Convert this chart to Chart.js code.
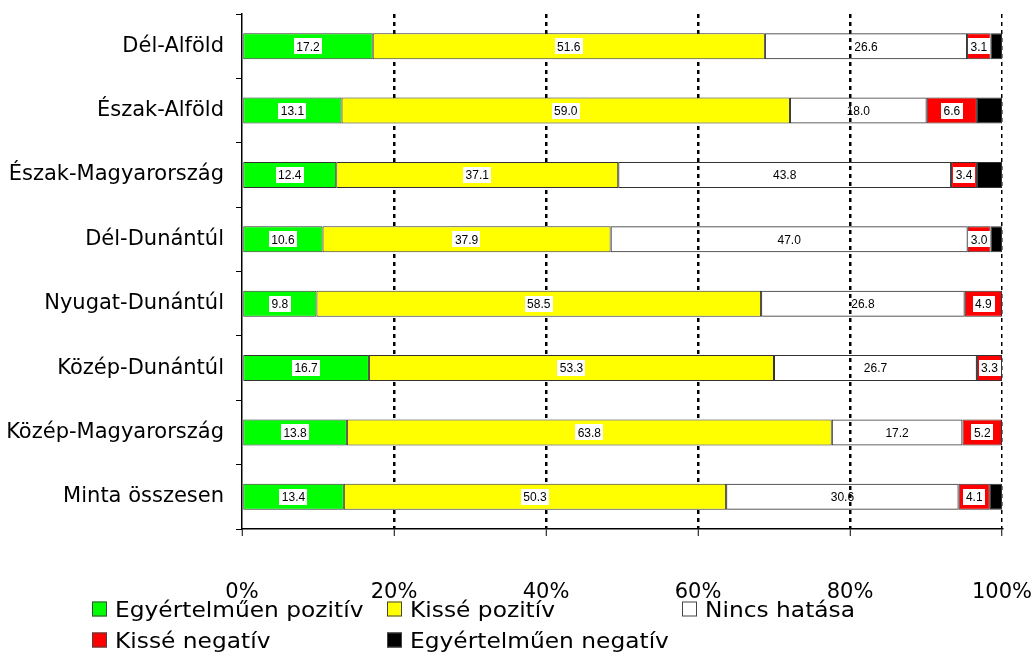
<!DOCTYPE html>
<html><head><meta charset="utf-8">
<script src="https://cdn.jsdelivr.net/npm/chart.js@4.4.1/dist/chart.umd.min.js"></script>
<style>html,body{margin:0;padding:0;background:#fff}#wrap{width:1033px;height:654px;position:relative}</style>
</head><body><div id="wrap"><canvas id="c" width="1033" height="654"></canvas></div>
<script>
const categories = ['Dél-Alföld','Észak-Alföld','Észak-Magyarország','Dél-Dunántúl','Nyugat-Dunántúl','Közép-Dunántúl','Közép-Magyarország','Minta összesen'];
const seriesNames = ['Egyértelműen pozitív','Kissé pozitív','Nincs hatása','Kissé negatív','Egyértelműen negatív'];
const egyertelmuenPozitiv = [17.2, 13.1, 12.4, 10.6, 9.8, 16.7, 13.8, 13.4];
const kisssePozitiv       = [51.6, 59.0, 37.1, 37.9, 58.5, 53.3, 63.8, 50.3];
const nincsHatasa         = [26.6, 18.0, 43.8, 47.0, 26.8, 26.7, 17.2, 30.6];
const kisseNegativ        = [3.1, 6.6, 3.4, 3.0, 4.9, 3.3, 5.2, 4.1];
const egyertelmuenNegativ = [1.5, 3.3, 3.3, 1.5, 0.0, 0.0, 0.0, 1.6];
const tickLabels = ['0%','20%','40%','60%','80%','100%'];

const seriesValues = [egyertelmuenPozitiv, kisssePozitiv, nincsHatasa, kisseNegativ, egyertelmuenNegativ];
const fills = ['#00ff00','#ffff00','rgba(255,255,255,0)','#ff0000','#000000'];
const legendFills = ['#00ff00','#ffff00','#ffffff','#ff0000','#000000'];
const showLabel = [true,true,true,true,false];
const labelBg = [true,true,false,true,false];

const FONT = '"DejaVu Sans", Verdana, sans-serif';
Chart.defaults.font.family = FONT;
Chart.defaults.color = '#000';

const labelPlugin = {
  id: 'segLabels',
  afterDatasetsDraw(chart) {
    const ctx = chart.ctx;
    ctx.save();
    ctx.font = '12px "Liberation Sans", Arial, sans-serif';
    ctx.textAlign = 'center';
    ctx.textBaseline = 'middle';
    chart.data.datasets.forEach((ds, di) => {
      if (!showLabel[di]) return;
      const meta = chart.getDatasetMeta(di);
      meta.data.forEach((el, i) => {
        const v = ds.data[i];
        if (!v) return;
        const p = el.getProps(['x','y','base'], true);
        const cx = (p.x + p.base) / 2;
        const txt = v.toFixed(1);
        const w = ctx.measureText(txt).width;
        if (labelBg[di]) {
          ctx.fillStyle = '#fff';
          ctx.fillRect(Math.round(cx - w/2 - 2.5), Math.round(p.y - 8), Math.round(w + 5), 16);
        }
        ctx.fillStyle = '#000';
        ctx.fillText(txt, cx, p.y + 1);
      });
    });
    ctx.restore();
  }
};

const legendItems = [
  {x: 92, y: 609}, {x: 387, y: 609}, {x: 682, y: 609},
  {x: 92, y: 640}, {x: 387, y: 640}
];
const legendPlugin = {
  id: 'customLegend',
  afterDraw(chart) {
    const ctx = chart.ctx;
    ctx.save();
    ctx.font = '22px ' + FONT;
    ctx.textBaseline = 'alphabetic';
    ctx.textAlign = 'left';
    chart.data.datasets.forEach((ds, di) => {
      const it = legendItems[di];
      ctx.fillStyle = legendFills[di];
      ctx.fillRect(it.x, it.y - 7.5, 15, 15);
      ctx.strokeStyle = '#444';
      ctx.lineWidth = 1;
      ctx.strokeRect(it.x + 0.5, it.y - 7, 14, 14);
      ctx.fillStyle = '#000';
      ctx.save();
      ctx.translate(it.x + 23, it.y + 8);
      ctx.scale(1.06, 1);
      ctx.fillText(ds.label, 0, 0);
      ctx.restore();
    });
    ctx.restore();
  }
};

new Chart(document.getElementById('c'), {
  type: 'bar',
  data: {
    labels: categories,
    datasets: seriesNames.map((n, i) => ({
      label: n,
      data: seriesValues[i],
      backgroundColor: fills[i],
      borderColor: '#333',
      borderWidth: 1,
      borderSkipped: false,
      barPercentage: 0.405,
      categoryPercentage: 1.0
    }))
  },
  options: {
    indexAxis: 'y',
    responsive: false,
    animation: false,
    devicePixelRatio: 1,
    layout: { padding: { top: 14, right: 31, left: 0, bottom: 0 } },
    plugins: { legend: { display: false }, tooltip: { enabled: false } },
    scales: {
      x: {
        stacked: true, min: 0, max: 100,
        afterFit(s) { s.height = 125; s.paddingLeft = 0; s.paddingRight = 0; },
        ticks: { stepSize: 20, padding: 44, font: { size: 21 }, color: '#000',
          callback: (v, i) => tickLabels[i] },
        grid: {
          color: c => (c.tick && c.tick.value === 0) ? 'rgba(0,0,0,0)' : '#000',
          lineWidth: c => (c.tick && c.tick.value === 100) ? 1.5 : 2.5,
          tickColor: '#000', tickLength: 7, tickWidth: 1, tickBorderDash: [0, 0],
          drawTicks: true
        },
        border: { display: true, color: '#000', width: 1.5, dash: [4, 4] }
      },
      y: {
        stacked: true,
        afterFit(s) { s.width = 242; s.paddingTop = 0; s.paddingBottom = 0; },
        ticks: { padding: 12, font: { size: 21 }, color: '#000' },
        grid: { offset: true, drawOnChartArea: false, drawTicks: true, tickLength: 6,
          color: '#000', tickColor: '#000', lineWidth: 1 },
        border: { display: true, color: '#000', width: 1.5 }
      }
    }
  },
  plugins: [labelPlugin, legendPlugin]
});
</script></body></html>
